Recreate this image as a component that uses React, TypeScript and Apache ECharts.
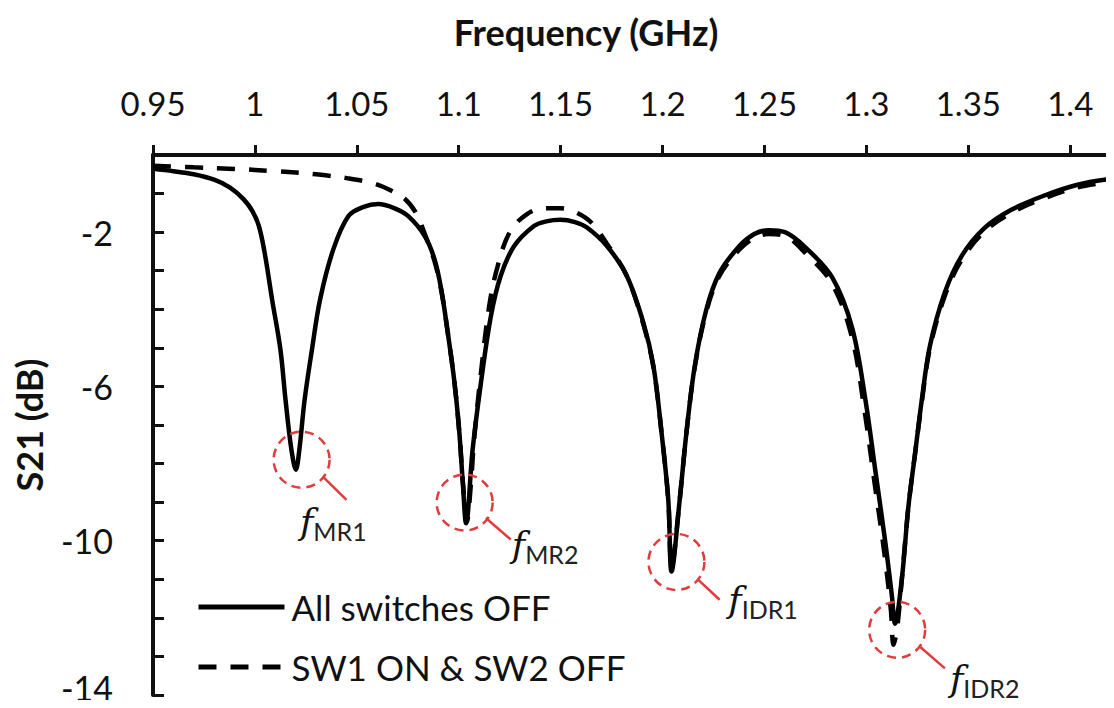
import React, { useEffect, useRef } from "react";
import * as echarts from "echarts";

// ---------- data (frequency GHz, S21 dB) ----------
const allOffFreq = [
  0.95, 0.96, 0.97, 0.98, 0.988, 0.9945, 0.9987, 1.002, 1.005, 1.0084, 1.0125, 1.015, 1.0179, 1.0201,
  1.0218, 1.0244, 1.028, 1.032, 1.0385, 1.0459, 1.053, 1.0605, 1.068, 1.0751, 1.0833, 1.0881, 1.0914,
  1.0946, 1.0979, 1.1003, 1.102, 1.1036, 1.1068, 1.1109, 1.1158, 1.1206, 1.1272, 1.1369, 1.143, 1.1499,
  1.157, 1.1629, 1.1727, 1.1824, 1.1906, 1.1955, 1.1995, 1.2028, 1.2044, 1.2084, 1.2117, 1.2158, 1.2215,
  1.228, 1.2377, 1.245, 1.252, 1.26, 1.2702, 1.2833, 1.293, 1.2995, 1.3044, 1.3093, 1.3125, 1.314,
  1.3174, 1.3206, 1.3239, 1.3272, 1.3312, 1.3385, 1.3467, 1.358, 1.3711, 1.3873, 1.4036, 1.42,
];
const allOffDb = [
  -0.36, -0.42, -0.5, -0.64, -0.85, -1.15, -1.45, -1.85, -2.6, -3.74, -5.04, -6.34, -7.64, -8.16,
  -7.64, -6.34, -5.04, -3.74, -2.44, -1.58, -1.35, -1.27, -1.37, -1.58, -2.1, -2.7, -3.48,
  -4.6, -5.9, -7.2, -8.5, -9.55, -7.64, -5.9, -4.17, -3.13, -2.36, -1.84, -1.72, -1.68,
  -1.74, -1.88, -2.36, -3.13, -4.35, -5.47, -7.2, -8.94, -10.8, -8.94, -7.2, -5.47, -4.0,
  -3.05, -2.36, -2.05, -1.95, -2.0, -2.4, -3.18, -4.48, -6.34, -8.19, -10.05, -11.43, -12.15,
  -10.98, -9.12, -7.73, -6.34, -4.94, -3.56, -2.62, -1.89, -1.42, -1.05, -0.77, -0.62,
];

const sw1OnFreq = [
  0.95, 0.97, 0.99, 1.01, 1.03, 1.045, 1.057, 1.066, 1.0736, 1.079, 1.083, 1.0881, 1.0914, 1.0946,
  1.0979, 1.1003, 1.1022, 1.104, 1.106, 1.1075, 1.111, 1.115, 1.119, 1.125, 1.133, 1.142, 1.15,
  1.158, 1.165, 1.1727, 1.1824, 1.1906, 1.1955, 1.1995, 1.2028, 1.2044, 1.2084, 1.2117, 1.2158,
  1.2215, 1.228, 1.2377, 1.245, 1.252, 1.26, 1.2702, 1.2833, 1.293, 1.299, 1.304, 1.309, 1.312,
  1.3133, 1.315, 1.3174, 1.3206, 1.3239, 1.3272, 1.3312, 1.3385, 1.3467, 1.358, 1.3711, 1.3873,
  1.4036, 1.42,
];
const sw1OnDb = [
  -0.28, -0.32, -0.36, -0.42, -0.5, -0.6, -0.72, -0.9, -1.14, -1.5, -2.0, -2.75, -3.5, -4.6,
  -5.9, -7.2, -8.6, -9.5, -8.5, -7.4, -5.6, -3.9, -2.9, -2.0, -1.55, -1.38, -1.38,
  -1.5, -1.75, -2.3, -3.13, -4.4, -5.5, -7.2, -8.94, -10.7, -8.94, -7.2, -5.5,
  -4.05, -3.12, -2.45, -2.15, -2.05, -2.1, -2.55, -3.35, -4.75, -6.6, -8.5, -10.4, -11.8,
  -12.7, -12.3, -11.0, -9.12, -7.73, -6.4, -5.0, -3.65, -2.72, -1.98, -1.5, -1.12,
  -0.84, -0.7,
];

const seriesNames = ["All switches OFF", "SW1 ON & SW2 OFF"];
const xTitle = "Frequency (GHz)";
const yTitle = "S21 (dB)";

// annotations: circle centres, leader lines, label positions (data coords)
const markerNames = ["MR1", "MR2", "IDR1", "IDR2"];
const circleCenters = [
  [1.0229, -7.9],
  [1.1029, -9.01],
  [1.2068, -10.55],
  [1.3151, -12.31],
];
const leaderStarts = [
  [1.0337, -8.36],
  [1.1133, -9.41],
  [1.2174, -11.01],
  [1.3263, -12.75],
];
const leaderEnds = [
  [1.0449, -8.94],
  [1.1255, -9.97],
  [1.228, -11.53],
  [1.3385, -13.31],
];
const labelCenters = [
  [1.0385, -9.51],
  [1.1424, -10.1],
  [1.2493, -11.53],
  [1.358, -13.56],
];

const FONT = "Lato, 'Open Sans', sans-serif";
const RED = "#e03c3c";

export default function App() {
  const ref = useRef<HTMLDivElement>(null);

  useEffect(() => {
    if (!ref.current) return;
    const chart = echarts.init(ref.current, undefined, { renderer: "svg" });

    const solidData = allOffFreq.map((f, i) => [f, allOffDb[i]]);
    const dashedData = sw1OnFreq.map((f, i) => [f, sw1OnDb[i]]);

    const markPointData: any[] = [];
    circleCenters.forEach((c) => {
      markPointData.push({
        coord: c,
        symbol: "circle",
        symbolSize: 56,
        itemStyle: {
          color: "rgba(0,0,0,0)",
          borderColor: RED,
          borderWidth: 2.5,
          borderType: [9, 6],
        },
        label: { show: false },
      });
    });
    labelCenters.forEach((c, i) => {
      markPointData.push({
        coord: c,
        symbol: "circle",
        symbolSize: 1,
        itemStyle: { color: "rgba(0,0,0,0)" },
        label: {
          show: true,
          position: "inside",
          formatter: `{i|f}{s|${markerNames[i]}}`,
          rich: {
            i: {
              fontFamily: "'DejaVu Serif', serif",
              fontStyle: "italic",
              fontSize: 36,
              color: "#111",
              lineHeight: 44,
              verticalAlign: "middle",
            },
            s: {
              fontFamily: FONT,
              fontSize: 25,
              color: "#222",
              lineHeight: 26,
              verticalAlign: "bottom",
            },
          },
        },
      });
    });

    const markLineData = leaderStarts.map((s, i) => [
      { coord: s, symbol: "none" },
      { coord: leaderEnds[i], symbol: "none" },
    ]);

    chart.setOption({
      animation: false,
      backgroundColor: "#ffffff",
      grid: { left: 153, right: -3, top: 155, bottom: 13, containLabel: false },
      graphic: [
        {
          type: "text",
          x: 586,
          y: 32,
          style: {
            text: xTitle,
            fontFamily: FONT,
            fontSize: 36,
            fontWeight: "bold",
            fill: "#111",
            align: "center",
            verticalAlign: "middle",
          },
        },
      ],
      legend: {
        orient: "vertical",
        left: 196,
        top: 589,
        padding: 0,
        itemWidth: 86,
        itemHeight: 22,
        itemGap: 24,
        itemStyle: { opacity: 0, color: "rgba(0,0,0,0)", borderWidth: 0 },
        lineStyle: { width: 5 },
        textStyle: {
          fontFamily: FONT,
          fontSize: 35,
          lineHeight: 36,
          color: "#111",
          padding: [0, 0, 0, 2],
        },
        data: seriesNames,
      },
      xAxis: {
        type: "value",
        position: "top",
        min: 0.95,
        max: 1.42,
        interval: 0.05,
        axisLine: { show: true, onZero: false, lineStyle: { color: "#111", width: 4 } },
        axisTick: { show: true, inside: false, length: 10, lineStyle: { color: "#111", width: 3 } },
        axisLabel: {
          margin: 36,
          fontFamily: FONT,
          fontSize: 33,
          color: "#111",
          formatter: (v: number) => {
            const k = (v - 0.95) / 0.05;
            if (Math.abs(k - Math.round(k)) > 1e-6) return "";
            return String(+v.toFixed(2));
          },
        },
        splitLine: { show: false },
      },
      yAxis: {
        type: "value",
        min: -14,
        max: 0,
        interval: 1,
        name: yTitle,
        nameLocation: "middle",
        nameGap: 106,
        nameRotate: 90,
        nameTextStyle: { fontFamily: FONT, fontSize: 36, fontWeight: "bold", color: "#111" },
        axisLine: { show: true, onZero: false, lineStyle: { color: "#111", width: 4 } },
        axisTick: { show: true, inside: true, length: 11, lineStyle: { color: "#111", width: 3 } },
        axisLabel: {
          margin: 40,
          fontFamily: FONT,
          fontSize: 34,
          color: "#111",
          formatter: (v: number) => {
            if (Math.round(v + 14) % 4 !== 0) return "";
            if (Math.round(v) === -14) return "{m|" + String(v) + "}";
            return String(v);
          },
          rich: {
            m: { fontFamily: FONT, fontSize: 34, color: "#111", padding: [0, 0, 16, 0] },
          },
        },
        splitLine: { show: false },
      },
      series: [
        {
          name: seriesNames[0],
          type: "line",
          data: solidData,
          symbol: "none",
          smooth: 0.35,
          lineStyle: { color: "#000", width: 4.5, type: "solid" },
          itemStyle: { color: "#000" },
          z: 3,
          markPoint: { silent: true, data: markPointData, animation: false },
          markLine: {
            silent: true,
            symbol: "none",
            animation: false,
            label: { show: false },
            lineStyle: { color: RED, width: 2.5, type: "solid" },
            data: markLineData,
          },
        },
        {
          name: seriesNames[1],
          type: "line",
          data: dashedData,
          symbol: "none",
          smooth: 0.35,
          lineStyle: { color: "#000", width: 4.5, type: [18, 14] },
          itemStyle: { color: "#000" },
          z: 2,
        },
      ],
    });

    return () => chart.dispose();
  }, []);

  return <div ref={ref} style={{ width: 1114, height: 708, margin: -8 }} />;
}
